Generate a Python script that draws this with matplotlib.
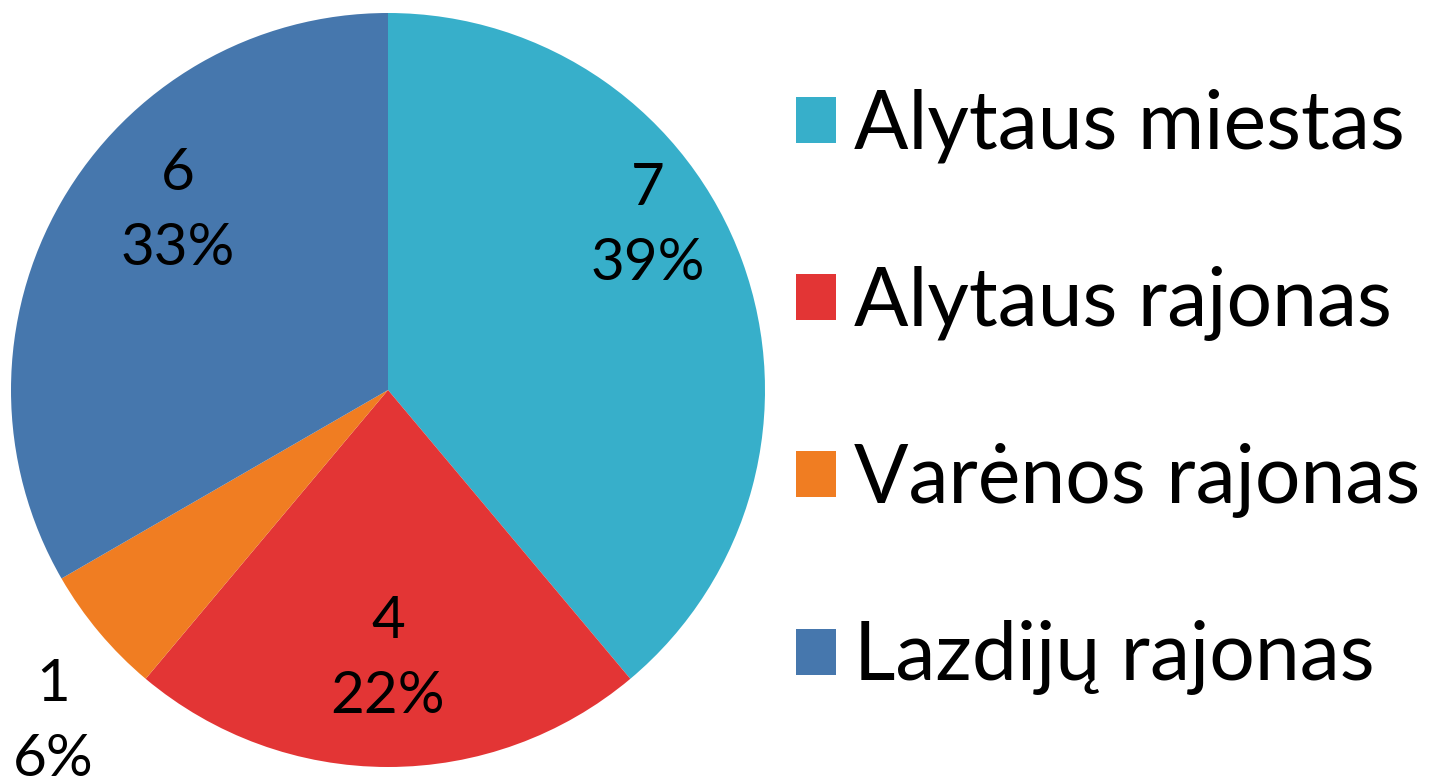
import matplotlib
matplotlib.use("Agg")
import matplotlib.pyplot as plt
from matplotlib.patches import Patch

categories = ["Alytaus miestas", "Alytaus rajonas", "Varėnos rajonas", "Lazdijų rajonas"]
values = [7, 4, 1, 6]
percent_labels = ["39%", "22%", "6%", "33%"]
colors = ["#37AFCA", "#E33535", "#F07D22", "#4677AD"]

W, H = 1432, 784
fig = plt.figure(figsize=(W / 100, H / 100), dpi=100)
plt.rcParams['font.family'] = ['Lato', 'DejaVu Sans']

cx, cy, R = 388, 390, 377
ax = fig.add_axes([(cx - R) / W, (H - cy - R) / H, 2 * R / W, 2 * R / H])
wedges, _ = ax.pie(values, colors=colors, startangle=90, counterclock=False,
                   radius=1.0, wedgeprops=dict(linewidth=0))
ax.set_xlim(-1, 1)
ax.set_ylim(-1, 1)
ax.set_aspect('equal')
ax.axis('off')

# label centers in pixel space (style/placement)
label_px = [(648, 226), (388, 659), (53, 722), (178, 211)]
for v, p, (px, py) in zip(values, percent_labels, label_px):
    x = (px - cx) / R
    y = (cy - py) / R
    ax.text(x, y, f"{v}\n{p}", ha='center', va='center', fontsize=42,
            linespacing=1.52, color='black', clip_on=False)

handles = [Patch(facecolor=c, edgecolor='none') for c in colors]
fig.legend(handles, categories, loc='center left',
           bbox_to_anchor=(796 / W, (H - 392) / H), frameon=False,
           fontsize=58, handlelength=0.5, handleheight=0.5,
           handletextpad=0.22, labelspacing=1.27, borderaxespad=0,
           borderpad=0)

fig.savefig("out.png", dpi=100)
